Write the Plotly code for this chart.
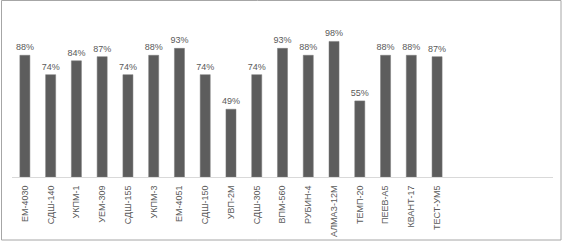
import plotly.graph_objects as go

names = ["ЕМ-4030", "СДШ-140", "УКПМ-1", "УЕМ-309", "СДШ-155", "УКПМ-3", "ЕМ-4051",
         "СДШ-150", "УВП-2М", "СДШ-305", "ВПМ-560", "РУБИН-4", "АЛМАЗ-12М", "ТЕМП-20",
         "ПЕЕВ-А5", "КВАНТ-17", "ТЕСТ-УМ5"]
values = [0.88, 0.74, 0.84, 0.87, 0.74, 0.88, 0.93, 0.74, 0.49, 0.74, 0.93, 0.88,
          0.98, 0.55, 0.88, 0.88, 0.87]
n_slots = 21

W, H = 563, 242
L, R, T, B = 12, 10, 11, 65
pw, ph = W - L - R, H - T - B

idx = list(range(len(names)))

fig = go.Figure(go.Bar(
    x=idx, y=values, width=0.39,
    marker=dict(color="#5d5d5d", line=dict(color="#7a7a7a", width=0.5)),
    texttemplate="%{y:.0%}", textposition="outside", cliponaxis=False,
    constraintext="none",
    textfont=dict(family="Liberation Sans", size=9, color="#595959"),
))

def px_x(x):
    return (x - L) / pw

def px_y(y):
    return (H - B - y) / ph

fig.add_shape(type="rect", xref="paper", yref="paper",
              x0=px_x(1.5), x1=px_x(561), y0=px_y(0.5), y1=px_y(240),
              line=dict(color="#a6a6a6", width=1), fillcolor="rgba(0,0,0,0)")

fig.update_layout(
    width=W, height=H, margin=dict(l=L, r=R, t=T, b=B, autoexpand=False),
    paper_bgcolor="white", plot_bgcolor="white", showlegend=False,
    uniformtext=dict(mode=False),
    xaxis=dict(range=[-0.5, n_slots - 0.5], tickvals=idx, ticktext=names,
               tickangle=-90, showgrid=False, zeroline=False, automargin=False,
               showline=True, linecolor="#d9d9d9", linewidth=1,
               ticks="", ticklabelstandoff=4,
               tickfont=dict(family="Liberation Sans", size=9, color="#595959")),
    yaxis=dict(range=[0, 1.2], visible=False, showgrid=False, zeroline=False,
               automargin=False),
)

fig.write_html("out.html")
